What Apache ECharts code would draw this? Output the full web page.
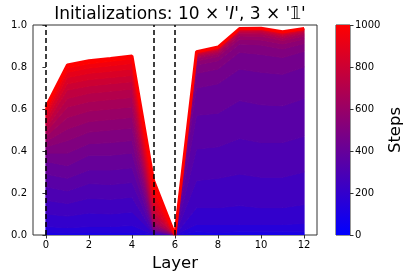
<!DOCTYPE html>
<html>
<head>
<meta charset="utf-8">
<script src="https://cdn.jsdelivr.net/npm/echarts@6/dist/echarts.min.js"></script>
<style>html,body{margin:0;padding:0;background:#fff}#c{width:415px;height:277px}</style>
</head>
<body>
<div id="c"></div>
<script>
const layers = [0, 1, 2, 3, 4, 5, 6, 7, 8, 9, 10, 11, 12];
const xTicks = [0, 2, 4, 6, 8, 10, 12];
const dashedLayers = [0, 5, 6];
const colorbarTicks = [0, 200, 400, 600, 800, 1000];
const steps = [0, 50, 100, 150, 200, 250, 300, 350, 400, 450, 500, 550, 600, 650, 700, 750, 800, 850, 900, 950, 1000];

const v0    = [0, 0, 0, 0, 0, 0, 0, 0, 0, 0, 0, 0, 0];
const v50   = [0.003, 0.003, 0.003, 0.003, 0.003, 0.001, 0, 0.004, 0.004, 0.004, 0.004, 0.004, 0.004];
const v100  = [0.012, 0.01, 0.012, 0.012, 0.013, 0.002, 0, 0.015, 0.012, 0.015, 0.015, 0.015, 0.015];
const v150  = [0.04, 0.035, 0.04, 0.04, 0.045, 0.004, 0, 0.05, 0.05, 0.05, 0.05, 0.05, 0.055];
const v200  = [0.10, 0.09, 0.105, 0.10, 0.11, 0.007, 0, 0.13, 0.13, 0.14, 0.13, 0.13, 0.145];
const v250  = [0.165, 0.15, 0.175, 0.17, 0.18, 0.01, 0, 0.26, 0.27, 0.29, 0.275, 0.275, 0.30];
const v300  = [0.23, 0.21, 0.245, 0.24, 0.25, 0.015, 0, 0.41, 0.42, 0.46, 0.44, 0.44, 0.47];
const v350  = [0.29, 0.27, 0.31, 0.31, 0.32, 0.02, 0, 0.57, 0.58, 0.64, 0.62, 0.615, 0.65];
const v400  = [0.35, 0.33, 0.38, 0.38, 0.39, 0.025, 0, 0.70, 0.72, 0.79, 0.775, 0.765, 0.80];
const v450  = [0.39, 0.39, 0.435, 0.44, 0.45, 0.03, 0, 0.77, 0.79, 0.87, 0.86, 0.845, 0.875];
const v500  = [0.42, 0.45, 0.49, 0.50, 0.51, 0.04, 0, 0.81, 0.83, 0.91, 0.905, 0.886, 0.912];
const v550  = [0.445, 0.505, 0.54, 0.55, 0.56, 0.05, 0, 0.828, 0.85, 0.932, 0.929, 0.91, 0.933];
const v600  = [0.47, 0.56, 0.59, 0.60, 0.61, 0.06, 0, 0.84, 0.862, 0.948, 0.946, 0.926, 0.948];
const v650  = [0.49, 0.61, 0.635, 0.645, 0.655, 0.07, 0, 0.848, 0.87, 0.958, 0.957, 0.937, 0.958];
const v700  = [0.51, 0.65, 0.675, 0.685, 0.695, 0.09, 0, 0.854, 0.876, 0.965, 0.965, 0.945, 0.965];
const v750  = [0.53, 0.69, 0.71, 0.72, 0.73, 0.11, 0, 0.859, 0.881, 0.970, 0.971, 0.951, 0.970];
const v800  = [0.55, 0.72, 0.74, 0.75, 0.76, 0.13, 0, 0.863, 0.885, 0.974, 0.975, 0.956, 0.974];
const v850  = [0.57, 0.75, 0.77, 0.78, 0.79, 0.16, 0, 0.866, 0.888, 0.977, 0.978, 0.960, 0.977];
const v900  = [0.585, 0.775, 0.795, 0.806, 0.817, 0.19, 0, 0.869, 0.891, 0.979, 0.981, 0.963, 0.979];
const v950  = [0.60, 0.795, 0.815, 0.827, 0.838, 0.22, 0, 0.871, 0.893, 0.981, 0.983, 0.966, 0.981];
const v1000 = [0.61, 0.81, 0.83, 0.84, 0.852, 0.26, 0, 0.873, 0.895, 0.983, 0.985, 0.968, 0.983];

const stepValues = [v0, v50, v100, v150, v200, v250, v300, v350, v400, v450, v500, v550, v600, v650, v700, v750, v800, v850, v900, v950, v1000];

const FONT = 'DejaVu Sans';
function stepColor(s) {
  const r = Math.round(255 * s / 1000);
  return 'rgb(' + r + ',0,' + (255 - r) + ')';
}

const topIdx = steps.length - 1;
const series = [
  {
    // band between each step's curve and the previous step's curve, drawn from step 0 upward
    type: 'custom', xAxisIndex: 0, yAxisIndex: 0, silent: true, z: 2, clip: true,
    data: steps.map((s, i) => [0, 0, i]),
    encode: { x: 0, y: 1 },
    renderItem: function (params, api) {
      const i = api.value(2);
      const upper = stepValues[i];
      const lower = i > 0 ? stepValues[i - 1] : null;
      const pts = [];
      for (let j = 0; j < layers.length; j++) pts.push(api.coord([layers[j], upper[j]]));
      for (let j = layers.length - 1; j >= 0; j--) pts.push(api.coord([layers[j], lower ? lower[j] : 0]));
      const c = stepColor(steps[i]);
      return {
        type: 'polygon',
        shape: { points: pts },
        style: { fill: c, stroke: c, lineWidth: 1, lineJoin: 'round' }
      };
    }
  },
  {
    type: 'line', xAxisIndex: 0, yAxisIndex: 0,
    data: layers.map((x, j) => [x, stepValues[topIdx][j]]),
    symbol: 'none', silent: true, z: 3,
    lineStyle: { color: stepColor(steps[topIdx]), width: 3 },
    markLine: {
      silent: true, symbol: ['none', 'none'], label: { show: false },
      lineStyle: { color: '#000', type: [5, 3], width: 1.5 },
      data: dashedLayers.map(x => ({ xAxis: x }))
    }
  },
  {
    type: 'bar', xAxisIndex: 1, yAxisIndex: 1,
    data: [steps[topIdx]], barWidth: '100%', silent: true,
    itemStyle: {
      color: new echarts.graphic.LinearGradient(0, 1, 0, 0, [
        { offset: 0, color: stepColor(steps[0]) },
        { offset: 1, color: stepColor(steps[topIdx]) }
      ])
    }
  }
];

const chart = echarts.init(document.getElementById('c'), null, { renderer: 'canvas' });
chart.setOption({
  animation: false,
  backgroundColor: '#fff',
  title: {
    text: "Initializations: 10 × '{i|I}', 3 × '𝟙'",
    left: 175, top: 1, textAlign: 'center',
    textStyle: {
      fontFamily: FONT, fontSize: 17, fontWeight: 'normal', color: '#000',
      rich: { i: { fontFamily: FONT, fontSize: 17, fontStyle: 'italic', color: '#000' } }
    }
  },
  grid: [
    { left: 33, right: 98, top: 25, bottom: 42, show: true, borderColor: '#333', borderWidth: 1, backgroundColor: '#fff' },
    { left: 336, width: 14, top: 25, bottom: 42, show: true, borderColor: '#333', borderWidth: 1 }
  ],
  xAxis: [
    {
      gridIndex: 0, type: 'value', min: -0.6, max: 12.6,
      name: 'Layer', nameLocation: 'middle', nameGap: 19,
      nameTextStyle: { fontFamily: FONT, fontSize: 16.5, color: '#000' },
      axisLine: { show: false }, splitLine: { show: false },
      axisTick: { show: true, length: 3.5, customValues: xTicks, lineStyle: { color: '#333' } },
      axisLabel: { customValues: xTicks, fontFamily: FONT, fontSize: 10, color: '#000', margin: 5 }
    },
    { gridIndex: 1, type: 'category', data: ['c'], show: false }
  ],
  yAxis: [
    {
      gridIndex: 0, type: 'value', min: 0, max: 1, interval: 0.2,
      axisLine: { show: false }, splitLine: { show: false },
      axisTick: { show: true, length: 3.5, lineStyle: { color: '#333' } },
      axisLabel: { fontFamily: FONT, fontSize: 10, color: '#000', margin: 6, formatter: v => v.toFixed(1) }
    },
    {
      gridIndex: 1, type: 'value', min: colorbarTicks[0], max: colorbarTicks[colorbarTicks.length - 1], interval: 200,
      position: 'right',
      name: 'Steps', nameLocation: 'middle', nameGap: 37, nameRotate: 90,
      nameTextStyle: { fontFamily: FONT, fontSize: 16.5, color: '#000' },
      axisLine: { show: false }, splitLine: { show: false },
      axisTick: { show: true, length: 3.5, lineStyle: { color: '#333' } },
      axisLabel: { fontFamily: FONT, fontSize: 10, color: '#000', margin: 5, formatter: v => String(v) }
    }
  ],
  series: series
});
</script>
</body>
</html>
